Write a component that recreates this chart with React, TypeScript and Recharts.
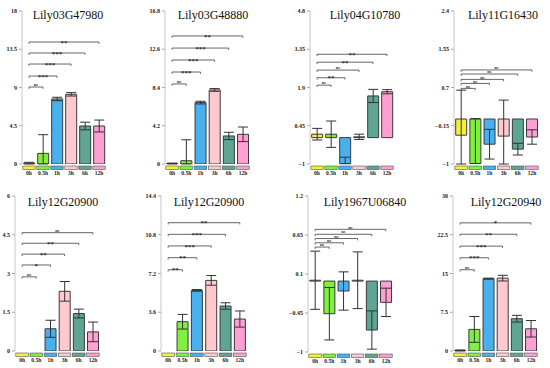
import { BarChart, Bar, XAxis, YAxis, ErrorBar, Cell, ReferenceLine } from 'recharts';

const categories = ['0h', '0.5h', '1h', '3h', '6h', '12h'];
const barColors = ['#f3f03a', '#7ff03e', '#46b1ee', '#ffc9cd', '#5fa593', '#ff9fd3'];

const titles = [
  'Lily03G47980', 'Lily03G48880', 'Lily04G10780', 'Lily11G16430',
  'Lily12G20900', 'Lily12G20900', 'Lily1967U06840', 'Lily12G20940',
];

// means and errors (number = symmetric, [minus, plus] = asymmetric)
const mean1 = [0.1, 1.25, 7.65, 8.2, 4.47, 4.47];
const err1 = [0.1, [1.25, 2.2], 0.2, 0.2, 0.45, 0.7];
const mean2 = [0.05, 0.36, 6.74, 8.13, 3.08, 3.26];
const err2 = [0.05, [0.36, 2.3], 0.15, 0.15, 0.4, 0.8];
const mean3 = [0.13, 0.13, -0.99, 0.03, 1.58, 1.74];
const err3 = [0.22, 0.5, [0, 0.25], 0.1, 0.25, 0.08];
const mean4 = [-0.36, -0.99, -0.56, -0.38, -0.67, -0.4];
const err4 = [[0.64, 1.0], [0, 1.0], 0.33, [0.62, 0.8], 0.13, 0.16];
const mean5 = [0, 0, 0.86, 2.31, 1.45, 0.74];
const err5 = [[0, 0.22], [0, 0.83], 0.33, 0.38, 0.17, 0.38];
const mean6 = [0, 2.72, 5.63, 6.56, 4.18, 2.97];
const err6 = [[0, 0.46], 0.68, 0.08, 0.45, 0.3, 0.75];
const mean7 = [0.012, -0.46, -0.14, 0.012, -0.69, -0.3];
const err7 = [0.41, 0.37, 0.27, 0.4, 0.27, 0.2];
const mean8 = [0.1, 4.18, 14.0, 14.1, 6.25, 4.3];
const err8 = [0.1, 2.5, 0.1, 0.55, 0.65, 1.6];

// significance vs 0h (0.5h, 1h, 3h, 6h, 12h)
const sig1 = ['ns', '***', '***', '***', '**'];
const sig2 = ['ns', '***', '***', '***', '**'];
const sig3 = ['ns', '**', 'ns', '**', '**'];
const sig4 = ['ns', 'ns', 'ns', 'ns', 'ns'];
const sig5 = ['ns', '*', '**', '**', 'ns'];
const sig6 = ['**', '**', '***', '***', '**'];
const sig7 = ['ns', 'ns', 'ns', 'ns', 'ns'];
const sig8 = ['ns', '***', '***', '**', '*'];

// bracket heights (data units)
const lvl1 = [9.06, 10.35, 11.76, 13.06, 14.35];
const lvl2 = [8.79, 10.1, 11.42, 12.73, 14.06];
const lvl3 = [1.99, 2.27, 2.56, 2.86, 3.16];
const lvl4 = [0.68, 0.79, 0.88, 1.0, 1.09];
const lvl5 = [2.87, 3.33, 3.75, 4.17, 4.58];
const lvl6 = [7.55, 8.67, 9.76, 10.84, 11.92];
const lvl7 = [0.48, 0.54, 0.6, 0.66, 0.73];
const lvl8 = [15.73, 18.05, 20.3, 22.6, 24.8];

const ticks1 = [0, 4.5, 9, 13.5, 18];
const ticks2 = [0, 4.2, 8.4, 12.6, 16.8];
const ticks3 = [-1, 0.45, 1.9, 3.35, 4.8];
const ticks4 = [-1, -0.15, 0.7, 1.55, 2.4];
const ticks5 = [0, 1.5, 3, 4.5, 6];
const ticks6 = [0, 3.6, 7.2, 10.8, 14.4];
const ticks7 = [-1, -0.45, 0.1, 0.65, 1.2];
const ticks8 = [0, 7.5, 15, 22.5, 30];

const panels = [
  { means: mean1, errs: err1, sig: sig1, levels: lvl1, ticks: ticks1 },
  { means: mean2, errs: err2, sig: sig2, levels: lvl2, ticks: ticks2 },
  { means: mean3, errs: err3, sig: sig3, levels: lvl3, ticks: ticks3 },
  { means: mean4, errs: err4, sig: sig4, levels: lvl4, ticks: ticks4 },
  { means: mean5, errs: err5, sig: sig5, levels: lvl5, ticks: ticks5 },
  { means: mean6, errs: err6, sig: sig6, levels: lvl6, ticks: ticks6 },
  { means: mean7, errs: err7, sig: sig7, levels: lvl7, ticks: ticks7 },
  { means: mean8, errs: err8, sig: sig8, levels: lvl8, ticks: ticks8 },
];

// plot areas on the page: left, top, width, height; title centre and baseline
const boxes = [
  { x: 22, y: 11, w: 84, h: 153, tx: 68, ty: 18.5 },
  { x: 165, y: 11, w: 85, h: 153, tx: 213, ty: 18.5 },
  { x: 310, y: 11, w: 84, h: 153, tx: 365, ty: 18.5 },
  { x: 454, y: 11, w: 85, h: 153, tx: 503, ty: 18.5 },
  { x: 15, y: 196, w: 85, h: 155, tx: 63, ty: 205.5 },
  { x: 161, y: 196, w: 86, h: 155, tx: 209, ty: 205.5 },
  { x: 308, y: 196, w: 85, h: 156, tx: 365, ty: 205.5 },
  { x: 453, y: 196, w: 85, h: 155, tx: 506, ty: 205.5 },
];

const SERIF = '"Liberation Serif", "DejaVu Serif", serif';

const fmt = (v: number) => (v < 0 ? '\u2212' + Math.abs(v) : String(v));

function Bracket(props: any) {
  const { x1, y1, x2, text } = props;
  if (x1 == null || y1 == null) return null;
  const mid = (x1 + x2) / 2;
  const ns = text === 'ns';
  return (
    <g>
      <path
        d={`M${x1},${y1 + 1.8}V${y1}H${x2}V${y1 + 1.8}`}
        fill="none"
        stroke="#555"
        strokeWidth={0.9}
      />
      <text
        x={mid}
        y={ns ? y1 - 0.8 : y1 + 2.6}
        textAnchor="middle"
        fontSize={ns ? 4.5 : 7}
        fontWeight="bold"
        fontFamily={SERIF}
        fill="#333"
      >
        {text}
      </text>
    </g>
  );
}

function StripTick(props: any) {
  const { x, y, payload, bw } = props;
  const i = categories.indexOf(payload.value);
  return (
    <g>
      <rect
        x={x - bw / 2 + 0.8}
        y={y + 2}
        width={bw - 1.6}
        height={3.6}
        fill={barColors[i]}
        stroke="#555"
        strokeWidth={0.6}
      />
      <text
        x={x}
        y={y + 11}
        textAnchor="middle"
        fontSize={5.5}
        fontWeight="bold"
        fontFamily={SERIF}
        fill="#222"
      >
        {payload.value}
      </text>
    </g>
  );
}

function Panel({ p, box }: any) {
  const data = categories.map((c, i) => ({ cat: c, value: p.means[i], err: p.errs[i] }));
  const bw = box.w / 6;
  return (
    <div style={{ position: 'absolute', left: box.x - 24, top: box.y - 4 }}>
      <BarChart
        width={24 + box.w + 4}
        height={4 + box.h + 16}
        data={data}
        margin={{ top: 4, right: 4, left: 0, bottom: 0 }}
        barCategoryGap="12%"
      >
        <XAxis
          dataKey="cat"
          height={16}
          tickSize={0}
          tickMargin={0}
          axisLine={false}
          tickLine={false}
          interval={0}
          tick={(tp: any) => <StripTick {...tp} bw={bw} />}
        />
        <YAxis
          width={24}
          domain={[p.ticks[0], p.ticks[p.ticks.length - 1]]}
          ticks={p.ticks}
          allowDataOverflow
          interval={0}
          tickSize={3}
          tickMargin={2}
          axisLine={{ stroke: '#c8c8c8' }}
          tickLine={{ stroke: '#aaa' }}
          tick={{ fontSize: 6, fontWeight: 'bold', fontFamily: SERIF, fill: '#222' }}
          tickFormatter={fmt}
        />
        {p.levels.map((lv: number, i: number) => (
          <ReferenceLine
            key={i}
            segment={[{ x: categories[0], y: lv }, { x: categories[i + 1], y: lv }]}
            shape={(sp: any) => <Bracket {...sp} text={p.sig[i]} />}
          />
        ))}
        <Bar dataKey="value" stroke="#3a3a3a" strokeWidth={1} isAnimationActive={false}>
          {data.map((_, i) => (
            <Cell key={i} fill={barColors[i]} />
          ))}
          <ErrorBar dataKey="err" width={5} stroke="#333" strokeWidth={1} />
        </Bar>
      </BarChart>
    </div>
  );
}

export default function App() {
  return (
    <div
      style={{
        position: 'absolute',
        left: 0,
        top: 0,
        width: 550,
        height: 368,
        background: '#fff',
        overflow: 'hidden',
      }}
    >
      {panels.map((p, i) => (
        <Panel key={i} p={p} box={boxes[i]} />
      ))}
      <svg
        width={550}
        height={368}
        style={{ position: 'absolute', left: 0, top: 0, pointerEvents: 'none' }}
      >
        {titles.map((t, i) => (
          <text
            key={i}
            x={boxes[i].tx}
            y={boxes[i].ty}
            textAnchor="middle"
            fontSize={12}
            fontFamily={SERIF}
            fill="#111"
          >
            {t}
          </text>
        ))}
      </svg>
    </div>
  );
}
